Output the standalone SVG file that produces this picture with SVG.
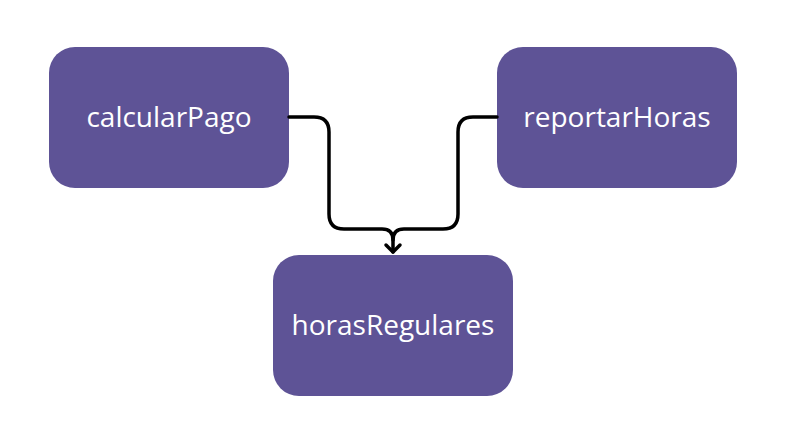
<svg xmlns="http://www.w3.org/2000/svg" width="786" height="429" viewBox="0 0 786 429">
<style>
.n{fill:#5e5396}
.t{fill:#fff;font-family:"Open Sans",sans-serif;font-size:28px;text-anchor:middle}
.c{fill:none;stroke:#000;stroke-width:3.5;stroke-linecap:round;stroke-linejoin:round}
</style>
<rect width="786" height="429" fill="#fff"/>
<g id="calcularPago"><rect class="n" x="49" y="47" width="240" height="141" rx="26"/><text class="t" x="169" y="127">calcularPago</text></g>
<g id="reportarHoras"><rect class="n" x="497" y="47" width="240" height="141" rx="26"/><text class="t" x="617" y="127">reportarHoras</text></g>
<g id="horasRegulares"><rect class="n" x="273" y="255" width="240" height="141" rx="26"/><text class="t" x="393" y="335">horasRegulares</text></g>
<g id="connectors">
<path class="c" d="M289 117 H314 Q329 117 329 132 V214 Q329 229 344 229 H382 Q393 229 393 240 V252"/>
<path class="c" d="M497 117 H473 Q458 117 458 132 V214 Q458 229 443 229 H404 Q393 229 393 240"/>
<path class="c" d="M386 245 L393 252 L400 245"/>
</g>
</svg>
